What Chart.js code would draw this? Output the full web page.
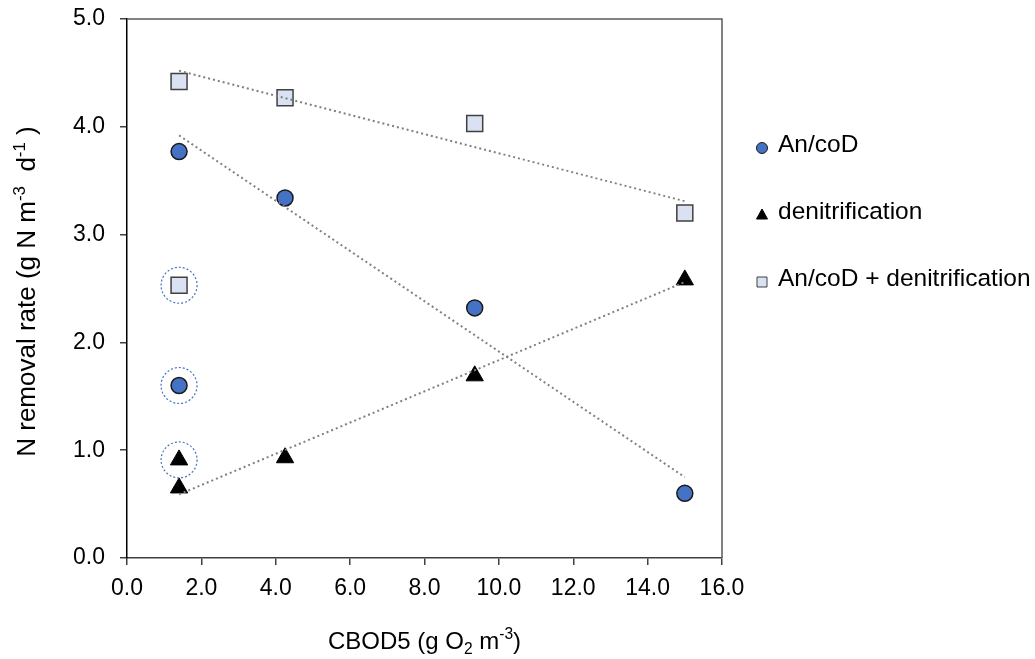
<!DOCTYPE html>
<html>
<head>
<meta charset="utf-8">
<script src="https://cdn.jsdelivr.net/npm/chart.js"></script>
<style>
  html, body { margin: 0; padding: 0; background: #fff; }
  #wrap { width: 1035px; height: 659px; }
</style>
</head>
<body>
<div id="wrap"><canvas id="chart" width="1035" height="659"></canvas></div>
<script>
// CBOD5 (x) vs N removal rate (y)
const cbod = [1.4, 4.25, 9.35, 15.0];
const ancod = [3.77, 3.34, 2.32, 0.60];
const denit = [0.65, 0.93, 1.69, 2.58];
const combined = [4.42, 4.27, 4.03, 3.20];

// extra points at low CBOD5 (circled in the figure)
const circledX = 1.4;
const circledAncod = 1.60;
const circledDenit = 0.91;
const circledCombined = 2.53;

// dotted trend lines, start / end
const trendX = [1.4, 15.0];
const trendAncod = [3.92, 0.75];
const trendDenit = [0.59, 2.56];
const trendCombined = [4.52, 3.31];

const xTicks = [0, 2, 4, 6, 8, 10, 12, 14, 16];
const yTicks = [0, 1, 2, 3, 4, 5];

const FONT = "'Liberation Sans', Arial, sans-serif";
const BLUE = '#4472C4';
const SQUARE_FILL = '#D9E1F2';

const pts = (xs, ys) => xs.map((x, i) => ({ x, y: ys[i] }));

const trendStyle = {
  type: 'line',
  borderColor: '#808080',
  borderWidth: 2,
  borderDash: [2, 3],
  pointRadius: 0,
  fill: false,
  order: 0,
};

const datasets = [
  { ...trendStyle, label: 'trend1', data: pts(trendX, trendAncod) },
  { ...trendStyle, label: 'trend2', data: pts(trendX, trendDenit) },
  { ...trendStyle, label: 'trend3', data: pts(trendX, trendCombined) },
  {
    type: 'scatter', label: 'An/coD', order: 1,
    data: pts(cbod, ancod).concat([{ x: circledX, y: circledAncod }]),
    pointStyle: 'circle', pointRadius: 8, backgroundColor: BLUE, borderColor: '#1a1a1a', borderWidth: 1.5,
  },
  {
    type: 'scatter', label: 'denitrification', order: 1,
    data: pts(cbod, denit).concat([{ x: circledX, y: circledDenit }]),
    pointStyle: 'triangle', pointRadius: 10, backgroundColor: '#000', borderColor: '#000', borderWidth: 1,
  },
  {
    type: 'scatter', label: 'An/coD + denitrification', order: 1,
    data: pts(cbod, combined).concat([{ x: circledX, y: circledCombined }]),
    pointStyle: 'rect', pointRadius: 11.3, backgroundColor: SQUARE_FILL, borderColor: '#404040', borderWidth: 1.5,
  },
];

// text with sub/superscript parts; [text, shift]: 0 normal, 1 sup, -1 sub
function richWidth(ctx, parts, size) {
  let w = 0;
  parts.forEach(([t, s]) => {
    ctx.font = (s ? size * 0.65 : size) + 'px ' + FONT;
    w += ctx.measureText(t).width;
  });
  return w;
}
function drawRich(ctx, parts, x, y, size) {
  const total = richWidth(ctx, parts, size);
  let cx = x - total / 2;
  ctx.textAlign = 'left';
  ctx.textBaseline = 'alphabetic';
  parts.forEach(([t, s]) => {
    ctx.font = (s ? size * 0.65 : size) + 'px ' + FONT;
    const dy = s === 1 ? -size * 0.4 : s === -1 ? size * 0.2 : 0;
    ctx.fillText(t, cx, y + dy);
    cx += ctx.measureText(t).width;
  });
}

const overlay = {
  id: 'overlay',
  afterDatasetsDraw(chart) {
    const { ctx, scales: { x, y } } = chart;
    // dashed blue rings round the circled points
    ctx.save();
    ctx.strokeStyle = BLUE;
    ctx.lineWidth = 1.2;
    ctx.setLineDash([2, 2]);
    [circledCombined, circledAncod, circledDenit].forEach(v => {
      ctx.beginPath();
      ctx.arc(x.getPixelForValue(circledX), y.getPixelForValue(v), 18, 0, Math.PI * 2);
      ctx.stroke();
    });
    ctx.restore();
  },
  afterDraw(chart) {
    const { ctx, chartArea: a } = chart;
    ctx.save();
    // top and right frame
    ctx.strokeStyle = '#5a5a5a';
    ctx.lineWidth = 1.5;
    ctx.beginPath();
    ctx.moveTo(a.left, a.top);
    ctx.lineTo(a.right, a.top);
    ctx.lineTo(a.right, a.bottom);
    ctx.stroke();

    ctx.fillStyle = '#000';
    // x title
    drawRich(ctx, [['CBOD5 (g O', 0], ['2', -1], [' m', 0], ['-3', 1], [')', 0]], (a.left + a.right) / 2, 649, 24);
    // y title
    ctx.save();
    ctx.translate(35, (a.top + a.bottom) / 2 + 3);
    ctx.rotate(-Math.PI / 2);
    drawRich(ctx, [['N removal rate (g N m', 0], ['-3', 1], ['  d', 0], ['-1', 1], [' )', 0]], 0, 0, 26);
    ctx.restore();

    // legend
    const items = chart.data.datasets.filter(d => d.type === 'scatter');
    const lx = 762, ly = [148, 215, 282];
    items.forEach((d, i) => {
      const cy = ly[i];
      ctx.lineWidth = 1;
      ctx.fillStyle = d.backgroundColor;
      ctx.strokeStyle = d.borderColor;
      ctx.beginPath();
      if (d.pointStyle === 'circle') {
        ctx.arc(lx, cy, 5.5, 0, Math.PI * 2);
      } else if (d.pointStyle === 'triangle') {
        ctx.moveTo(lx, cy - 6);
        ctx.lineTo(lx + 5.5, cy + 4);
        ctx.lineTo(lx - 5.5, cy + 4);
        ctx.closePath();
      } else {
        ctx.rect(lx - 5, cy - 5, 10, 10);
      }
      ctx.fill();
      ctx.stroke();
      ctx.fillStyle = '#000';
      ctx.font = '24.5px ' + FONT;
      ctx.textAlign = 'left';
      ctx.textBaseline = 'middle';
      ctx.fillText(d.label, 778, cy - 3);
    });
    ctx.restore();
  }
};

new Chart(document.getElementById('chart'), {
  data: { datasets },
  options: {
    responsive: false,
    animation: false,
    layout: { padding: { left: 60, right: 313, top: 19, bottom: 51 } },
    plugins: { legend: { display: false }, tooltip: { enabled: false } },
    scales: {
      x: {
        type: 'linear', min: 0, max: 16,
        afterFit: s => { s.height = 50; s.paddingLeft = 0; s.paddingRight = 0; },
        afterBuildTicks: s => { s.ticks = xTicks.map(v => ({ value: v })); },
        ticks: { callback: v => v.toFixed(1), color: '#000', font: { family: FONT, size: 23 }, padding: 10, maxRotation: 0 },
        grid: { drawOnChartArea: false, drawTicks: true, tickLength: 7, color: '#404040', lineWidth: 1.5 },
        border: { display: true, color: '#404040', width: 1.5 },
      },
      y: {
        type: 'linear', min: 0, max: 5,
        afterFit: s => { s.width = 67; s.paddingTop = 0; s.paddingBottom = 0; },
        afterBuildTicks: s => { s.ticks = yTicks.map(v => ({ value: v })); },
        ticks: { callback: v => v.toFixed(1), color: '#000', font: { family: FONT, size: 23 }, padding: 15 },
        grid: { drawOnChartArea: false, drawTicks: true, tickLength: 7, color: '#404040', lineWidth: 1.5 },
        border: { display: true, color: '#000', width: 1.5 },
      },
    },
  },
  plugins: [overlay],
});
</script>
</body>
</html>
